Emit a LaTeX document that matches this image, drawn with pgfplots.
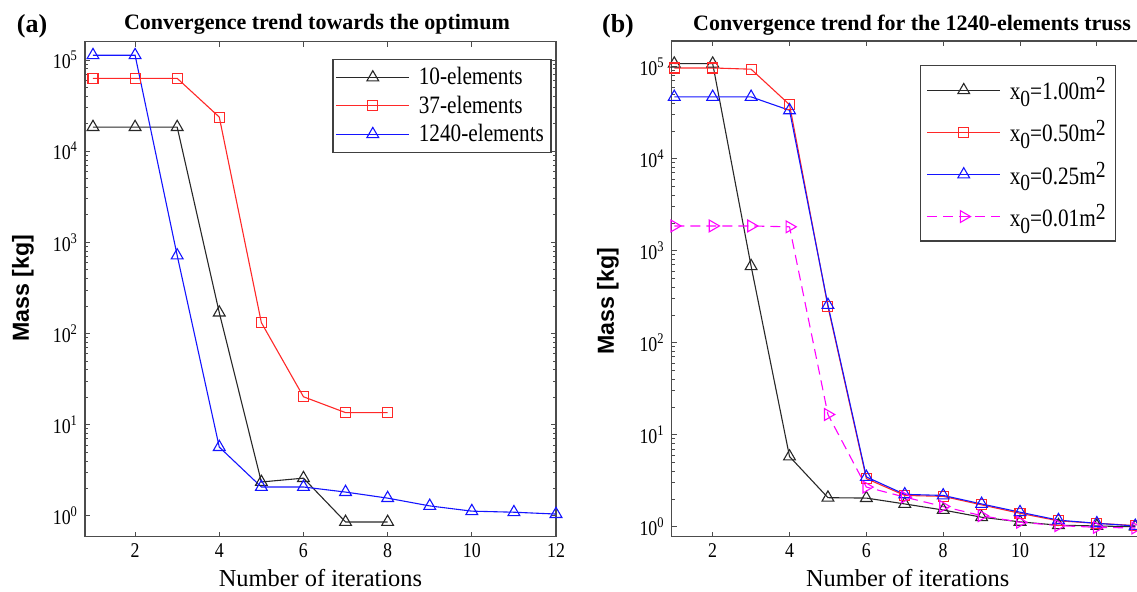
\documentclass[border=0pt]{standalone}
\usepackage{pgfplots}
\pgfplotsset{compat=1.18}
\usepackage{fontspec}
\setmainfont{Liberation Serif}
\newfontfamily\nfont{Liberation Serif}[FakeStretch=0.85]
\newfontfamily\sansb{Liberation Sans Bold}
\definecolor{mred}{RGB}{255,40,40}
\definecolor{mblue}{RGB}{20,20,255}
\definecolor{mmag}{RGB}{255,0,255}
\definecolor{mblk}{RGB}{40,40,40}
\newcommand\xo{x\raisebox{-0.6ex}{\fontsize{11.5}{11}\selectfont 0}}
\newcommand\msq{m\raisebox{0.6ex}{\fontsize{11.5}{11}\selectfont 2}}
\pgfplotsset{
  legend image code/.code={\draw[#1] (0pt,0pt) -- (36.5pt,0pt); \draw[#1, solid] plot coordinates {(18.25pt,0pt)}; \path (39pt,0pt);},
  mystyle/.style={
    scale only axis, tick align=inside,
    axis line style={black!70, line width=0.7pt},
    every tick/.style={black!70, line width=0.5pt},
    major tick length=2.5pt, minor tick length=1.5pt,
    ticklabel style={font=\nfont\fontsize{10.5}{12}\selectfont},
    /pgf/number format/assume math mode=true,
    ytick={1,10,100,1000,10000,100000},
    yticklabels={10\textsuperscript{0},10\textsuperscript{1},10\textsuperscript{2},10\textsuperscript{3},10\textsuperscript{4},10\textsuperscript{5}},
    xlabel={Number of iterations},
    ylabel={Mass [kg]},
    every axis plot/.append style={line width=0.55pt},
    legend cell align=left,
    legend style={draw=black!75, line width=0.8pt, fill=white, inner xsep=1.5pt, inner ysep=2pt,
      font=\nfont\fontsize{12.5}{15}\selectfont, anchor=north east},
  }
}
\begin{document}
\begin{tikzpicture}
\begin{axis}[ymode=log, mystyle,
  at={(42.5pt,27.65pt)}, anchor=south west, width=235.5pt, height=247.5pt,
  xmin=0.81, xmax=12, ymin=0.593, ymax=1.59e5,
  xtick={2,4,...,12},
  xlabel style={at={(axis description cs:0.5,-0.083)}, anchor=center, font=\fontsize{12.2}{14}\selectfont},
  ylabel style={at={(axis description cs:-0.132,0.502)}, anchor=center, font=\sansb\fontsize{11.6}{13}\selectfont},
  legend style={at={(0.991,0.966)}},
]
\addplot[mblk, mark=triangle, mark size=3.4pt] coordinates {(1,18400)(2,18400)(3,18400)(4,170)(5,2.36)(6,2.6)(7,0.86)(8,0.86)};
\addlegendentry{10-elements}
\addplot[mred, mark=square, mark size=2.5pt] coordinates {(1,63000)(2,63000)(3,63000)(4,23700)(5,132)(6,20.3)(7,13.6)(8,13.6)};
\addlegendentry{37-elements}
\addplot[mblue, mark=triangle, mark size=3.4pt] coordinates {(1,113000)(2,113000)(3,720)(4,5.7)(5,2.08)(6,2.08)(7,1.83)(8,1.57)(9,1.29)(10,1.13)(11,1.10)(12,1.05)};
\addlegendentry{1240-elements\hspace{6pt}}
\end{axis}
\begin{axis}[ymode=log, mystyle,
  at={(335.85pt,27.65pt)}, anchor=south west, width=251pt, height=247.8pt,
  xmin=0.933, xmax=14, ymin=0.78, ymax=1.9e5,
  xtick={2,4,...,12},
  xlabel style={at={(axis description cs:0.47,-0.083)}, anchor=center, font=\fontsize{12.2}{14}\selectfont},
  ylabel style={at={(axis description cs:-0.127,0.475)}, anchor=center, font=\sansb\fontsize{11.6}{13}\selectfont},
  legend style={at={(0.886,0.952)}, row sep=4.5pt, inner ysep=4pt, inner xsep=3pt},
]
\addplot[mblk, mark=triangle, mark size=3.4pt] coordinates {(1,108000)(2,108000)(3,680)(4,5.8)(5,2.07)(6,2.05)(7,1.77)(8,1.52)(9,1.27)(10,1.13)(11,1.04)(12,1.02)(13,1.0)};
\addlegendentry{\xo=1.00\msq}
\addplot[mred, mark=square, mark size=2.5pt] coordinates {(1,97000)(2,97000)(3,94000)(4,38700)(5,247)(6,3.34)(7,2.19)(8,2.14)(9,1.73)(10,1.40)(11,1.16)(12,1.09)(13,1.03)};
\addlegendentry{\xo=0.50\msq}
\addplot[mblue, mark=triangle, mark size=3.4pt] coordinates {(1,47000)(2,47000)(3,47000)(4,33600)(5,257)(6,3.48)(7,2.25)(8,2.19)(9,1.77)(10,1.44)(11,1.18)(12,1.09)(13,1.02)};
\addlegendentry{\xo=0.25\msq}
\addplot[mmag, dash pattern=on 5pt off 3pt, mark=triangle, mark size=3.4pt, mark options={solid, rotate=-90}] coordinates {(1,1860)(2,1860)(3,1860)(4,1820)(5,16.6)(6,2.7)(7,2.1)(8,1.66)(9,1.32)(10,1.12)(11,1.03)(12,0.985)(13,0.97)};
\addlegendentry{\xo=0.01\msq}
\end{axis}
\node[font=\bfseries\fontsize{11}{13}\selectfont] at (158.5pt,284pt) {Convergence trend towards the optimum};
\node[font=\bfseries\fontsize{11}{13}\selectfont] at (456pt,283.5pt) {Convergence trend for the 1240-elements truss};
\node[font=\bfseries\fontsize{13}{15}\selectfont] at (16pt,283pt) {(a)};
\node[font=\bfseries\fontsize{13}{15}\selectfont] at (309pt,283pt) {(b)};
\pgfresetboundingbox
\useasboundingbox (0,0) rectangle (568.5pt,296pt);
\end{tikzpicture}
\end{document}
